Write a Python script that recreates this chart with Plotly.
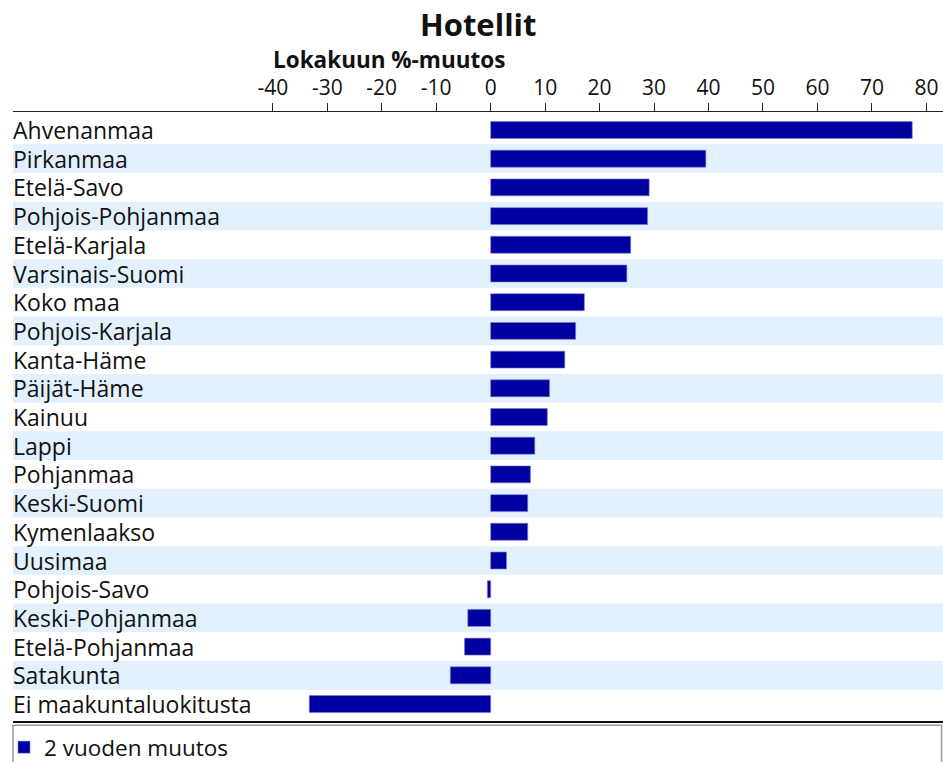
import plotly.graph_objects as go

categories = ["Ahvenanmaa", "Pirkanmaa", "Etelä-Savo", "Pohjois-Pohjanmaa", "Etelä-Karjala",
              "Varsinais-Suomi", "Koko maa", "Pohjois-Karjala", "Kanta-Häme", "Päijät-Häme",
              "Kainuu", "Lappi", "Pohjanmaa", "Keski-Suomi", "Kymenlaakso", "Uusimaa",
              "Pohjois-Savo", "Keski-Pohjanmaa", "Etelä-Pohjanmaa", "Satakunta",
              "Ei maakuntaluokitusta"]
values = [77.4, 39.5, 29.1, 28.8, 25.7, 25.0, 17.2, 15.6, 13.6, 10.8,
          10.4, 8.1, 7.3, 6.8, 6.8, 2.9, -0.6, -4.2, -4.8, -7.4, -33.3]
tick_vals = [-40, -30, -20, -10, 0, 10, 20, 30, 40, 50, 60, 70, 80]
tick_text = ["-40", "-30", "-20", "-10", "0", "10", "20", "30", "40", "50", "60", "70", "80"]
series_name = "2 vuoden muutos"
title = "Hotellit"
subtitle = "Lokakuun %-muutos"

FONT = "Open Sans"
BAR = "#0000a0"
STRIPE = "#e3f1fe"

W, H = 943, 762
ML, MT, MB = 13, 112, 40
PLOT_H = H - MT - MB  # 610

fig = go.Figure(go.Bar(
    x=values, y=categories, orientation="h", name=series_name, showlegend=True,
    marker=dict(color=BAR, line=dict(color="#7878cc", width=0.6)),
))

shapes = []
for i, c in enumerate(categories):
    if i % 2 == 1:
        shapes.append(dict(type="rect", xref="paper", x0=0, x1=1, yref="y",
                           y0=i - 0.5, y1=i + 0.5, fillcolor=STRIPE,
                           line=dict(width=0), layer="below"))
# bottom line
shapes.append(dict(type="line", xref="paper", x0=0, x1=1, yref="paper", y0=0, y1=0,
                   line=dict(color="#111", width=2)))
# legend box
shapes.append(dict(type="rect", xref="paper", x0=0, x1=0.9985, yref="paper",
                   y0=-3.2 / PLOT_H, y1=-0.2, line=dict(color="#9a9a9a", width=1.5),
                   fillcolor="rgba(0,0,0,0)"))

annotations = []
for c in categories:
    annotations.append(dict(text=c, xref="paper", x=0, xanchor="left", xshift=-2,
                            yref="y", y=c, yanchor="middle", showarrow=False,
                            font=dict(family=FONT, size=23, color="#111")))
annotations.append(dict(text="<b>" + subtitle + "</b>", xref="x", x=-40, xanchor="left",
                        xshift=-2, yref="paper", y=1 + (112 - 60) / PLOT_H, yanchor="middle",
                        showarrow=False, font=dict(family=FONT, size=22.5, color="#111")))
annotations.append(dict(text="<b>" + title + "</b>", xref="paper", x=0.5, xanchor="center",
                        yref="paper", y=1 + (112 - 24) / PLOT_H, yanchor="middle",
                        showarrow=False, font=dict(family=FONT, size=31, color="#111")))

fig.update_layout(
    width=W, height=H,
    margin=dict(l=ML, r=0, t=MT, b=MB, autoexpand=False),
    paper_bgcolor="white", plot_bgcolor="white",
    font=dict(family=FONT, color="#111"),
    bargap=0.41,
    shapes=shapes, annotations=annotations,
    showlegend=True,
    legend=dict(orientation="h", xref="container", x=4 / W, xanchor="left",
                yref="container", y=1 - 726 / H, yanchor="top",
                font=dict(family=FONT, size=22.5, color="#111"), bgcolor="rgba(0,0,0,0)"),
    xaxis=dict(side="top", range=[-87.7, 83.05], tickvals=tick_vals, ticktext=tick_text,
               ticks="outside", ticklen=8, tickwidth=1, tickcolor="#222", automargin=False,
               showline=True, linecolor="#222", linewidth=1, showgrid=False,
               zeroline=False, tickfont=dict(family=FONT, size=21, color="#111")),
    yaxis=dict(autorange="reversed", showticklabels=False, showgrid=False, zeroline=False,
               categoryorder="array", categoryarray=categories, ticks="", automargin=False),
)

fig.write_html(
    "out.html",
    config={"displayModeBar": False},
    post_script="document.body.style.margin='0';document.body.style.overflow='hidden';",
)
